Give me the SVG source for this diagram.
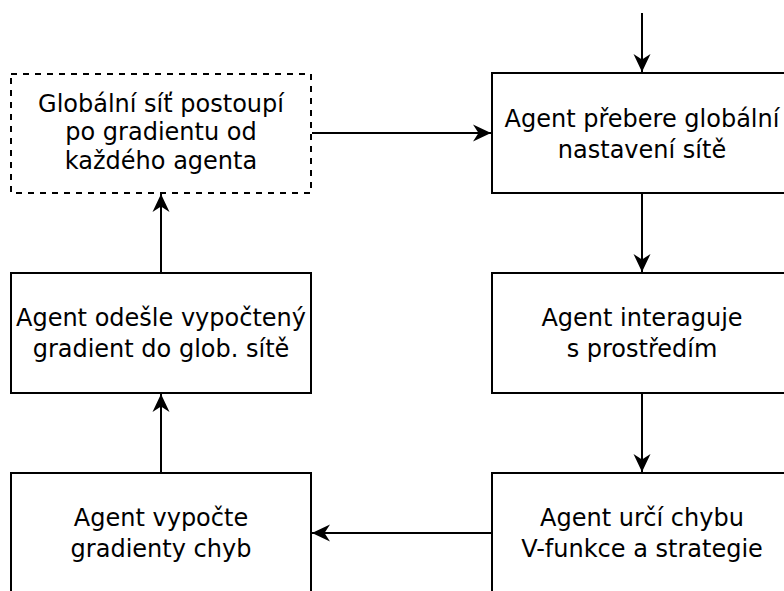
<svg xmlns="http://www.w3.org/2000/svg" width="784" height="591" viewBox="0 0 784 591">
  <defs>
    <style>
      .box { fill: #ffffff; stroke: #000000; stroke-width: 2; }
      .dashed { stroke-dasharray: 6 6; }
      .label { font-family: "DejaVu Sans", sans-serif; font-size: 24px; fill: #000000; text-anchor: middle; }
      .edge { fill: none; stroke: #000000; stroke-width: 2; marker-end: url(#arrow); }
    </style>
    <marker id="arrow" markerUnits="userSpaceOnUse" markerWidth="20" markerHeight="20" viewBox="-18 -10 19 20" refX="0" refY="0" orient="auto">
      <path d="M0,0 L-18,-8.5 L-12.5,0 L-18,8.5 Z" fill="#000000"/>
    </marker>
  </defs>

  <rect width="784" height="591" fill="#ffffff"/>

  <!-- connectors -->
  <g id="edges">
    <path class="edge" d="M642,13 L642,72"/>
    <path class="edge" d="M312,133 L491,133"/>
    <path class="edge" d="M642,193 L642,272"/>
    <path class="edge" d="M642,393 L642,472"/>
    <path class="edge" d="M492,533 L312,533"/>
    <path class="edge" d="M161,473 L161,394"/>
    <path class="edge" d="M161,273 L161,194"/>
  </g>

  <!-- left column -->
  <g id="global-update">
    <rect class="box dashed" x="11" y="74" width="300" height="119"/>
    <text class="label" x="161" y="111.5">Globální síť postoupí</text>
    <text class="label" x="161" y="140">po gradientu od</text>
    <text class="label" x="161" y="168.5">každého agenta</text>
  </g>

  <g id="send-gradient">
    <rect class="box" x="11" y="273" width="300" height="120"/>
    <text class="label" x="161" y="326">Agent odešle vypočtený</text>
    <text class="label" x="161" y="357">gradient do glob. sítě</text>
  </g>

  <g id="compute-gradients">
    <rect class="box" x="11" y="473" width="300" height="130"/>
    <text class="label" x="161" y="526">Agent vypočte</text>
    <text class="label" x="161" y="557">gradienty chyb</text>
  </g>

  <!-- right column -->
  <g id="take-global">
    <rect class="box" x="492" y="73" width="300" height="120"/>
    <text class="label" x="642" y="126.5">Agent přebere globální</text>
    <text class="label" x="642" y="157.5">nastavení sítě</text>
  </g>

  <g id="interact">
    <rect class="box" x="492" y="273" width="300" height="120"/>
    <text class="label" x="642" y="326">Agent interaguje</text>
    <text class="label" x="642" y="357">s prostředím</text>
  </g>

  <g id="error">
    <rect class="box" x="492" y="473" width="300" height="130"/>
    <text class="label" x="642" y="526">Agent určí chybu</text>
    <text class="label" x="642" y="557">V-funkce a strategie</text>
  </g>
</svg>
